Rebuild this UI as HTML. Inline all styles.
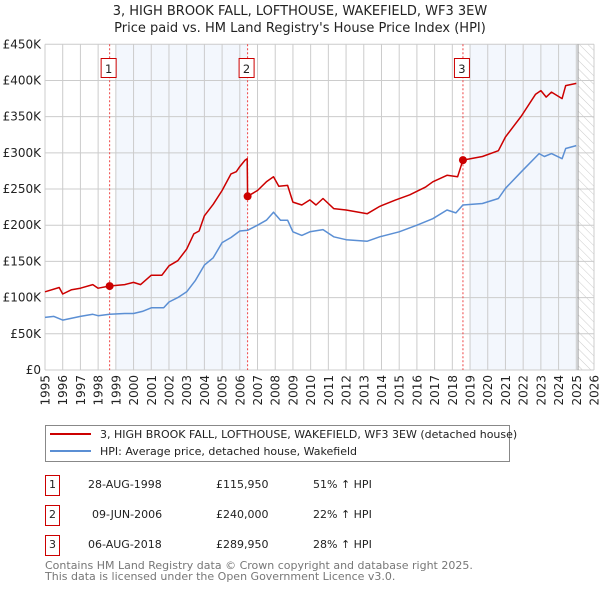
<!DOCTYPE html>
<html><head><meta charset="utf-8"><style>
body{margin:0;background:#fff;font-family:"DejaVu Sans","Liberation Sans",sans-serif}
svg{display:block}
</style></head><body>
<svg id="chart" width="600" height="590" xmlns="http://www.w3.org/2000/svg" font-family="DejaVu Sans, Liberation Sans, sans-serif">
<defs><pattern id="hatch" width="6" height="6" patternUnits="userSpaceOnUse" patternTransform="rotate(-45)"><line x1="0" y1="0" x2="0" y2="6" stroke="#ccc" stroke-width="1"/></pattern></defs>
<text x="300" y="15" text-anchor="middle" font-size="13" fill="#222">3, HIGH BROOK FALL, LOFTHOUSE, WAKEFIELD, WF3 3EW</text>
<text x="300" y="32" text-anchor="middle" font-size="13" fill="#222">Price paid vs. HM Land Registry's House Price Index (HPI)</text>
<g id="plot"></g>
<g>
<rect x="45.5" y="425.5" width="464" height="36" fill="#fff" stroke="#888"/>
<line x1="50" y1="434" x2="91" y2="434" stroke="#cc0000" stroke-width="2"/>
<text x="100" y="438" font-size="11" fill="#222">3, HIGH BROOK FALL, LOFTHOUSE, WAKEFIELD, WF3 3EW (detached house)</text>
<line x1="50" y1="451" x2="91" y2="451" stroke="#5b8fd4" stroke-width="2"/>
<text x="100" y="455" font-size="11" fill="#222">HPI: Average price, detached house, Wakefield</text>
</g>
<g font-size="11" fill="#222">
<rect x="45.5" y="475.5" width="14" height="20" fill="#fff" stroke="#cc0000"/><text x="52.5" y="488" text-anchor="middle">1</text>
<text x="88" y="488">28-AUG-1998</text><text x="216" y="488">£115,950</text><text x="313" y="488">51% ↑ HPI</text>
<rect x="45.5" y="505.5" width="14" height="20" fill="#fff" stroke="#cc0000"/><text x="52.5" y="518" text-anchor="middle">2</text>
<text x="92" y="518">09-JUN-2006</text><text x="216" y="518">£240,000</text><text x="313" y="518">22% ↑ HPI</text>
<rect x="45.5" y="535.5" width="14" height="20" fill="#fff" stroke="#cc0000"/><text x="52.5" y="548" text-anchor="middle">3</text>
<text x="88" y="548">06-AUG-2018</text><text x="216" y="548">£289,950</text><text x="313" y="548">28% ↑ HPI</text>
</g>
<text x="45" y="569" font-size="11" fill="#777">Contains HM Land Registry data © Crown copyright and database right 2025.</text>
<text x="45" y="580" font-size="11" fill="#777">This data is licensed under the Open Government Licence v3.0.</text>
</svg>
<script>
const hpiYears=[1995,1995.5,1996,1997,1997.7,1998,1998.65,1999.5,2000,2000.5,2001,2001.7,2002,2002.5,2003,2003.5,2004,2004.5,2005,2005.5,2006,2006.44,2007,2007.5,2007.9,2008.3,2008.7,2009,2009.5,2009.96,2010.7,2011.3,2012,2013.2,2013.9,2015,2016,2016.9,2017.7,2018.2,2018.6,2019.7,2020.6,2021,2021.9,2022.9,2023.2,2023.6,2024.2,2024.4,2025];
const hpiValues=[72.7,74,69,74,77,75,77,78,78,81,86,86,94,100,108,124,145,155,176,183,192,193,200,207,218,207,207,191,186,191,194,184,180,178,184,191,200,209,221,217,228,230,237,251,274,299,295,299,292,306,310];
const priceYears=[1995,1995.8,1996,1996.5,1997,1997.7,1998,1998.65,1999.5,2000,2000.4,2001,2001.6,2002,2002.5,2003,2003.4,2003.7,2004,2004.5,2005,2005.5,2005.8,2006,2006.3,2006.42,2006.44,2007,2007.5,2007.9,2008.2,2008.7,2009,2009.5,2009.96,2010.3,2010.7,2011.3,2012,2013.2,2013.9,2014.8,2015.6,2016.5,2016.9,2017.7,2018.3,2018.6,2019.7,2020.6,2021,2021.9,2022.7,2023,2023.3,2023.6,2024.2,2024.4,2025];
const priceValues=[108,114,105,111,113,118,113,116,118,121,118,131,131,144,151,167,188,192,213,229,248,271,274,281,290,292,240,248,260,267,254,255,232,228,235,228,237,223,221,216,226,235,242,253,260,269,267,290,295,303,322,351,381,386,377,384,375,393,396];
const saleYears=[1998.65,2006.44,2018.6];
const saleValues=[115.95,240,289.95];
const saleLabels=["1","2","3"];
const yTicks=[0,50,100,150,200,250,300,350,400,450];
const yTickLabels=["£0","£50K","£100K","£150K","£200K","£250K","£300K","£350K","£400K","£450K"];
const xTicks=[];for(let y=1995;y<=2026;y++)xTicks.push(y);
const X0=45,X1=594,Y0=370,Y1=44.3;
const sx=y=>X0+(y-1995)/(2026-1995)*(X1-X0);
const sy=v=>Y0-v/450*(Y0-Y1);
const NS="http://www.w3.org/2000/svg",g=document.getElementById('plot');
function mk(t,a,p){const e=document.createElementNS(NS,t);for(const k in a)e.setAttribute(k,a[k]);(p||g).appendChild(e);return e;}
let r;
r=mk('rect',{x:sx(1999),y:Y1,width:sx(2006.44)-sx(1999),height:Y0-Y1,fill:'#eef3fc',opacity:0.7});


r=mk('rect',{x:sx(2019),y:Y1,width:sx(2025.1)-sx(2019),height:Y0-Y1,fill:'#eef3fc',opacity:0.7});


r=mk('rect',{x:sx(2025.1),y:Y1,width:X1-sx(2025.1),height:Y0-Y1,fill:'url(#hatch)'});


yTicks.forEach((v,i)=>{
 const l=mk('line',{x1:X0,x2:X1,y1:sy(v),y2:sy(v),stroke:'#ccc','stroke-width':1});
 
 
 const t=mk('text',{x:X0-4,y:sy(v)+4,'text-anchor':'end','font-size':12,fill:'#222'});
 t.textContent=yTickLabels[i];
 
 
});
xTicks.forEach(y=>{
 const l=mk('line',{x1:sx(y),x2:sx(y),y1:Y1,y2:Y0,stroke:'#ccc','stroke-width':1});
 
 
 const t=mk('text',{x:0,y:0,'text-anchor':'end','font-size':12,fill:'#222',transform:`translate(${sx(y)+4.5},${Y0+5}) rotate(-90)`});
 t.textContent=y;
 
 
});
r=mk('line',{x1:sx(2025.1),x2:sx(2025.1),y1:Y1,y2:Y0,stroke:'#999','stroke-width':1});


saleYears.forEach((y,i)=>{
 const l=mk('line',{x1:sx(y),x2:sx(y),y1:Y1,y2:Y0,stroke:'#e44','stroke-width':1,'stroke-dasharray':'2,2'});
 
 
});
function line(xs,vs,c,name){
 const p=mk('polyline',{points:xs.map((x,i)=>sx(x).toFixed(1)+','+sy(vs[i]).toFixed(1)).join(' '),fill:'none',stroke:c,'stroke-width':1.5,'stroke-linejoin':'round'});
 
 
}
line(hpiYears,hpiValues,'#5b8fd4','hpi-line');
line(priceYears,priceValues,'#cc0000','price-line');
saleYears.forEach((y,i)=>{
 const c=mk('circle',{cx:sx(y),cy:sy(saleValues[i]),r:4,fill:'#cc0000'});
 
 
 const b=mk('rect',{x:sx(y)-8.5,y:58.5,width:15,height:19,fill:'#fff',stroke:'#cc0000'});
 
 
 const t=mk('text',{x:sx(y)-1,y:73,'text-anchor':'middle','font-size':11.5,fill:'#222'});
 t.textContent=saleLabels[i];
 
 
});
</script>
</body></html>
